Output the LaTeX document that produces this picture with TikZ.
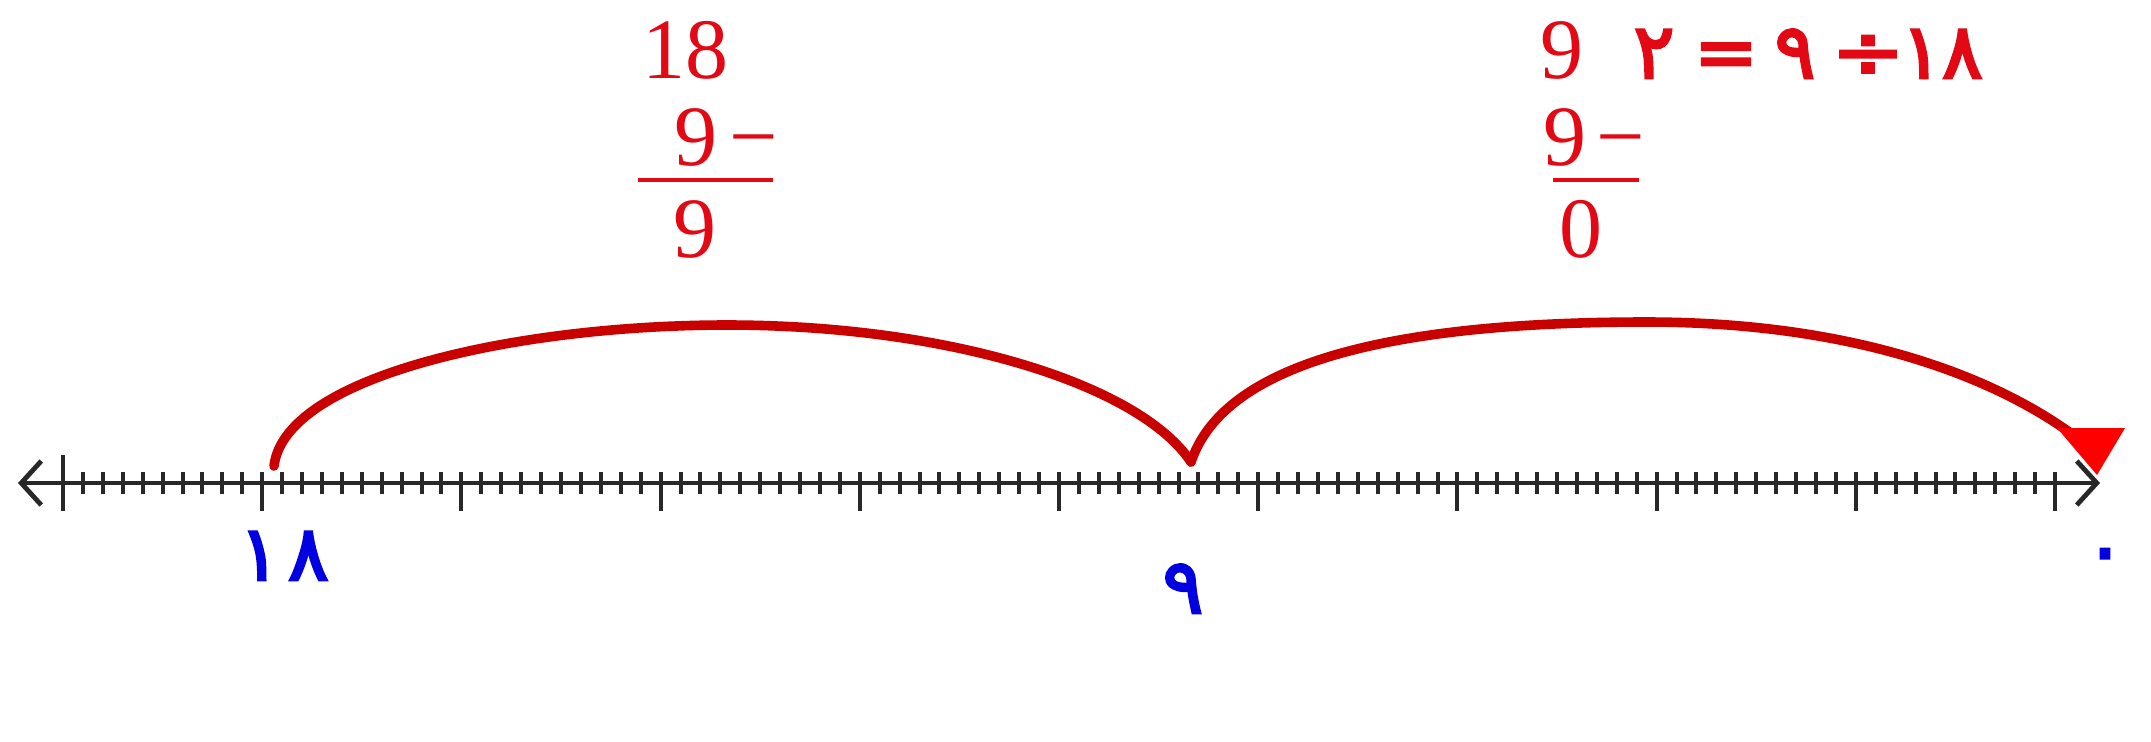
\documentclass[tikz,border=0pt]{standalone}
\usepackage{fontspec}
\setmainfont{Liberation Serif}
\newfontfamily\arabicfont[Script=Arabic,FakeBold=3.5]{DejaVu Sans}
\usetikzlibrary{arrows.meta}
\definecolor{txtred}{RGB}{226,8,20}
\definecolor{arcred}{RGB}{200,0,0}
\definecolor{headred}{RGB}{255,0,0}
\definecolor{numblue}{RGB}{0,0,225}
\definecolor{axisgray}{RGB}{40,40,40}
\begin{document}
\begin{tikzpicture}[x=0.25pt,y=-0.25pt,
  latin/.style={text=txtred,font=\fontsize{21.5}{26}\selectfont,inner sep=0pt,anchor=base},
  arab/.style={text=txtred,font=\arabicfont\fontsize{19}{22}\selectfont,inner sep=0pt,anchor=base},
  lbl/.style={text=numblue,font=\arabicfont\fontsize{19}{22}\selectfont,inner sep=0pt,anchor=base},
  jumparc/.style={draw=arcred,line width=2.4pt,line cap=round},
  tickline/.style={draw=axisgray,line width=1pt},
  fracbar/.style={draw=txtred,line width=1pt},
  numberline/.style={draw=axisgray,line width=1.2pt,{Straight Barb[length=5pt,width=11pt]}-{Straight Barb[length=5pt,width=11pt]}}
]
\useasboundingbox[fill=white] (0,0) rectangle (2151,741);

% number line
\coordinate (L) at (18,483);
\coordinate (R) at (2100,483);
\draw[numberline] (L) -- (R);
\foreach \i in {0,...,100}{
  \pgfmathsetmacro\xx{63+19.92*\i}
  \draw[tickline] (\xx,472) -- (\xx,494);
}
\foreach \i in {0,...,10}{
  \pgfmathsetmacro\xx{63+199.2*\i}
  \draw[tickline] (\xx,472) -- (\xx,511);
}
\draw[tickline] (63,455) -- (63,473);

% jumps
\coordinate (p18) at (274,466);
\coordinate (top1) at (727,325);
\coordinate (p9) at (1191,462);
\coordinate (top2) at (1646,322);
\coordinate (p0) at (2097,475);
\coordinate (end0) at (2080,440);
\draw[jumparc] (p18) .. controls (285,375) and (520,325) .. (top1)
  .. controls (950,325) and (1140,385) .. (p9);
\draw[jumparc] (p9) .. controls (1225,360) and (1400,322) .. (top2)
  .. controls (1850,322) and (1995,375) .. (end0);
\fill[headred] (p0) -- ++(-40,-47) -- ++(68,0) -- cycle;

% left subtraction
\node[latin] (a18) at (685,78) {18};
\node[latin,anchor=base west] (a9m) at (674,165) {9\hspace{3pt}−};
\coordinate (bar1l) at (638,180);
\coordinate (bar1r) at (773,180);
\draw[fracbar] (bar1l) -- (bar1r);
\node[latin] (a9b) at (695,257) {9};

% right subtraction
\node[latin] (b9) at (1562,78) {9};
\node[latin,anchor=base west] (b9m) at (1543,165) {9\hspace{2.5pt}−};
\coordinate (bar2l) at (1553,180);
\coordinate (bar2r) at (1639,180);
\draw[fracbar] (bar2l) -- (bar2r);
\node[latin] (b0) at (1581,257) {0};

% division sentence
\node[arab] (e2) at (1654,78) {٢};
\node[arab] (eeq) at (1726,78) {=};
\node[arab] (e9) at (1795,78) {٩};
\node[arab] (ediv) at (1868,78) {\scalebox{1.15}[1]{÷}};
\node[arab] (e18) at (1942,78) {١٨};

% labels
\node[lbl] (l18) at (284,580) {١\hspace{2pt}٨};
\node[lbl] (l9) at (1183,613) {٩};
\node[lbl] (l0) at (2105,575) {٠};
\end{tikzpicture}
\end{document}
